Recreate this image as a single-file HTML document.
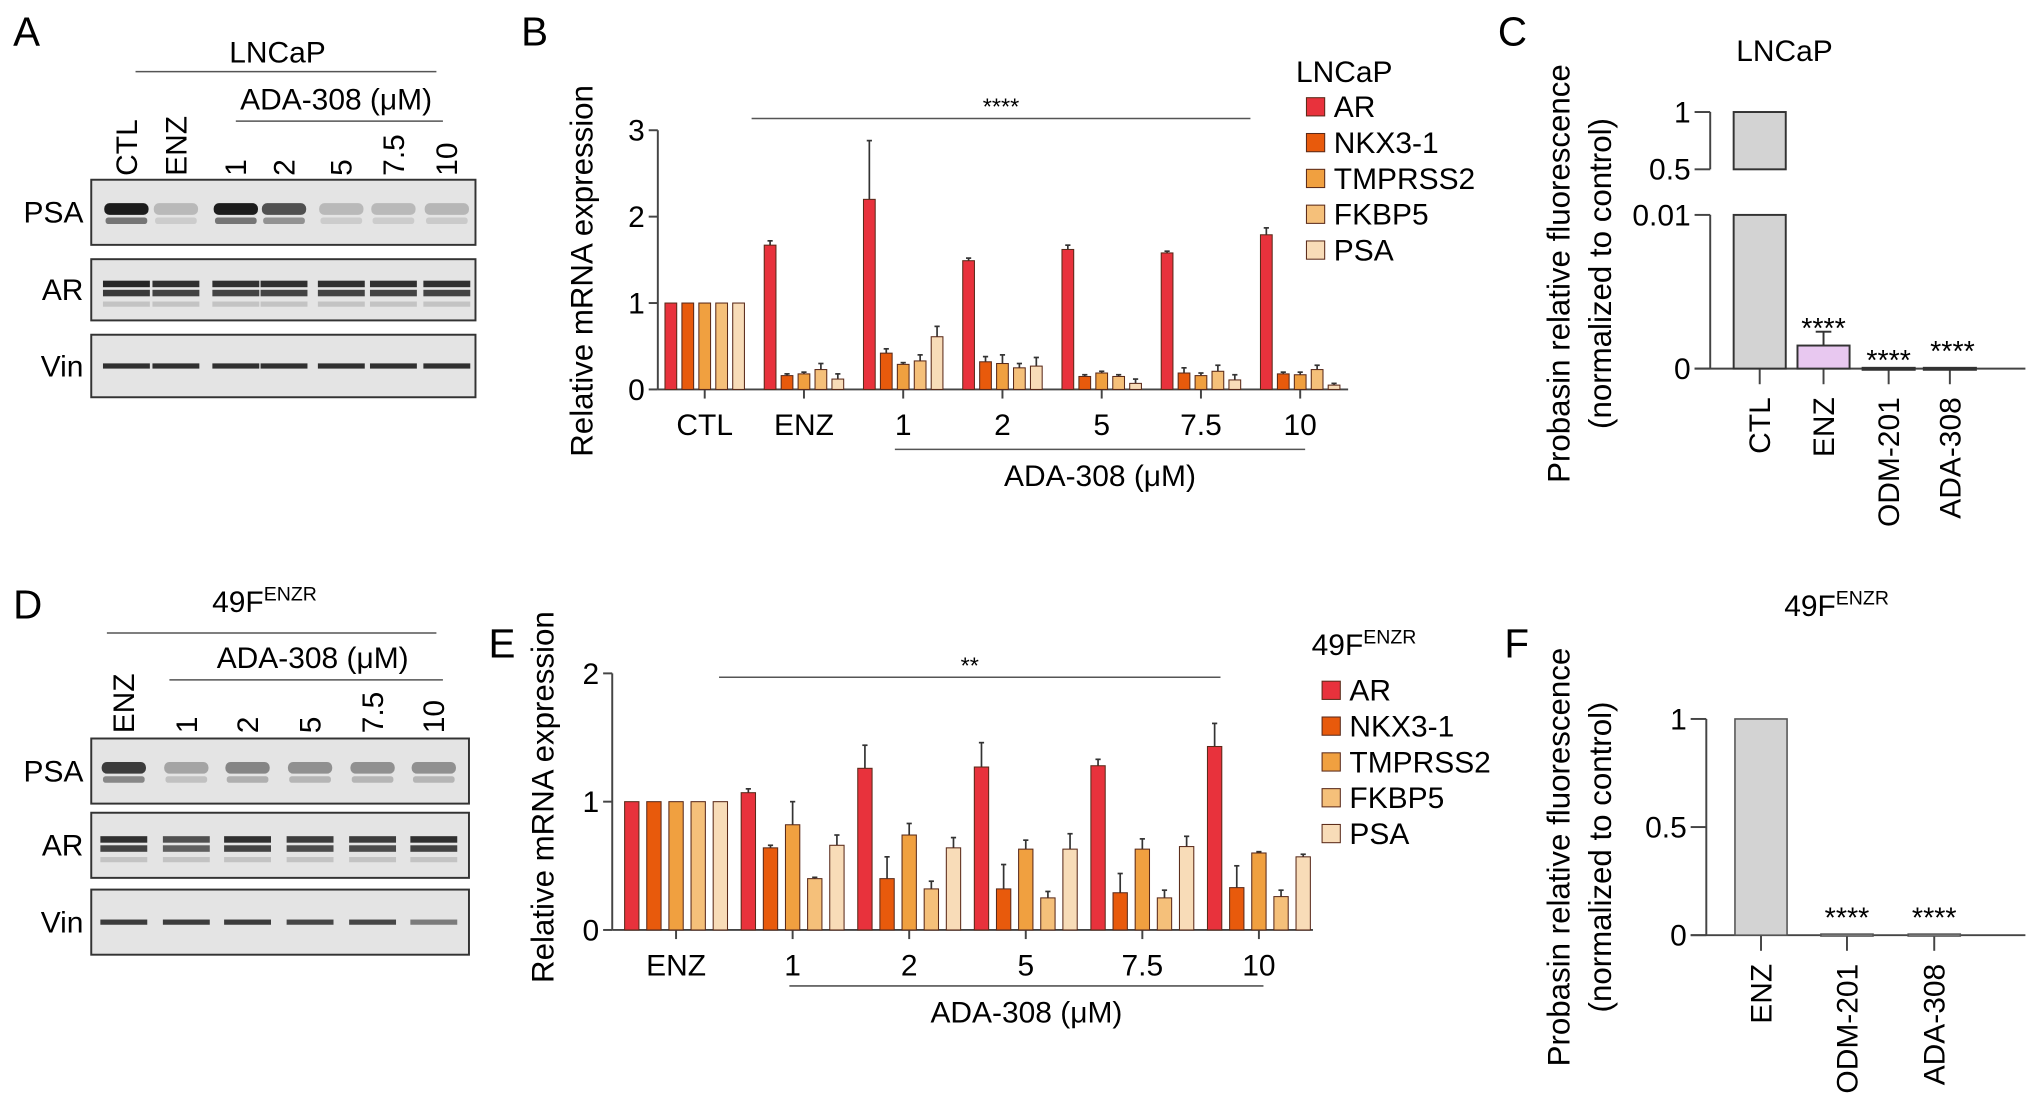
<!DOCTYPE html>
<html><head><meta charset="utf-8"><style>
html,body{margin:0;padding:0;background:#fff;}
svg{display:block;font-family:"Liberation Sans",Arial,sans-serif;}
</style></head><body>
<svg id="fig" width="2032" height="1111" viewBox="0 0 1560 853" xmlns="http://www.w3.org/2000/svg">
<g id="blots"></g>
<g id="chartB"></g>
<g id="chartE"></g>
<g id="chartC"></g>
<g id="chartF"></g>
</svg>
<script>
const seriesNames = ["AR","NKX3-1","TMPRSS2","FKBP5","PSA"];
const seriesColors = ["#e8323c","#e85a0c","#f0a040","#f5c07a","#f8dcb8"];
const bCategories = ["CTL","ENZ","1","2","5","7.5","10"];
const bAR    = [1,1.67,2.2,1.49,1.62,1.58,1.79];
const bNKX   = [1,0.16,0.42,0.32,0.15,0.19,0.18];
const bTMP   = [1,0.18,0.29,0.30,0.19,0.16,0.17];
const bFKBP  = [1,0.23,0.33,0.25,0.15,0.21,0.23];
const bPSA   = [1,0.12,0.61,0.27,0.07,0.11,0.05];
const bARerr = [0,0.05,0.68,0.03,0.05,0.02,0.08];
const bNKXerr= [0,0.02,0.05,0.06,0.02,0.06,0.02];
const bTMPerr= [0,0.02,0.02,0.10,0.02,0.03,0.03];
const bFKBPerr=[0,0.07,0.07,0.05,0.02,0.07,0.05];
const bPSAerr= [0,0.06,0.12,0.10,0.05,0.06,0.02];
const bTicks = [0,1,2,3];
const eCategories = ["ENZ","1","2","5","7.5","10"];
const eAR    = [1,1.07,1.26,1.27,1.28,1.43];
const eNKX   = [1,0.64,0.40,0.32,0.29,0.33];
const eTMP   = [1,0.82,0.74,0.63,0.63,0.60];
const eFKBP  = [1,0.40,0.32,0.25,0.25,0.26];
const ePSA   = [1,0.66,0.64,0.63,0.65,0.57];
const eARerr = [0,0.03,0.18,0.19,0.05,0.18];
const eNKXerr= [0,0.02,0.17,0.19,0.15,0.17];
const eTMPerr= [0,0.18,0.09,0.07,0.08,0.01];
const eFKBPerr=[0,0.01,0.06,0.05,0.06,0.05];
const ePSAerr= [0,0.08,0.08,0.12,0.08,0.02];
const eTicks = [0,1,2];
const cCategories = ["CTL","ENZ","ODM-201","ADA-308"];
const cValues = [1,0.0015,0.00005,0.00005];
const cErr = [0,0.0009,0,0];
const fCategories = ["ENZ","ODM-201","ADA-308"];
const fValues = [1,0.005,0.005];
const fTicks = [0,0.5,1];

const FS=23;
const NS="http://www.w3.org/2000/svg";
function el(parent,tag,attrs,text){const e=document.createElementNS(NS,tag);for(const k in attrs)e.setAttribute(k,attrs[k]);if(text!==undefined)e.textContent=text;parent.appendChild(e);return e;}
const fig=document.getElementById('fig');

[["A",10,35],["B",400,35],["C",1150,35],["D",10,475],["E",375,505],["F",1155,505]].forEach(p=>{
  const t=el(fig,'text',{x:p[1],y:p[2],'font-size':31},p[0]);
  
  
});

const blots=document.getElementById('blots');
function blotSet(x0,x1,rows,lanes,intens){
  rows.forEach((r,ri)=>{
    const b=el(blots,'rect',{x:x0,y:r[1],width:x1-x0,height:r[2]-r[1],fill:'#e4e4e4',stroke:'#333','stroke-width':1.5});
    
    
    const l=el(blots,'text',{x:x0-6,y:(r[1]+r[2])/2+8,'font-size':FS,'text-anchor':'end'},r[0]);
    
    
    const cy=(r[1]+r[2])/2;
    lanes.forEach((lx,li)=>{
      const v=intens[ri][li];
      if(r[0]==='PSA'){
        el(blots,'rect',{x:lx-17,y:cy-7,width:34,height:9,rx:4,fill:'#111','fill-opacity':v});
        el(blots,'rect',{x:lx-16,y:cy+4,width:32,height:5,rx:2,fill:'#222','fill-opacity':v*0.6});
      } else if(r[0]==='AR'){
        el(blots,'rect',{x:lx-18,y:cy-7,width:36,height:5,fill:'#111','fill-opacity':v});
        el(blots,'rect',{x:lx-18,y:cy,width:36,height:5,fill:'#111','fill-opacity':v*0.9});
        el(blots,'rect',{x:lx-18,y:cy+9,width:36,height:4,fill:'#777','fill-opacity':0.3});
      } else {
        el(blots,'rect',{x:lx-18,y:cy-2,width:36,height:4,fill:'#111','fill-opacity':v});
      }
    });
  });
}
const aLanes=[97,135,181,218,262,302,343];
blotSet(70,365,[["PSA",138,188],["AR",199,246],["Vin",257,305]],aLanes,
 [[0.95,0.2,0.95,0.7,0.2,0.2,0.22],[0.9,0.85,0.85,0.85,0.85,0.85,0.85],[0.85,0.85,0.85,0.85,0.85,0.85,0.85]]);
["CTL","ENZ","1","2","5","7.5","10"].forEach((s,i)=>{
  const t=el(blots,'text',{x:0,y:0,'font-size':FS,transform:`translate(${aLanes[i]+8},135) rotate(-90)`},s);
   
});
el(blots,'text',{x:213,y:48,'font-size':FS,'text-anchor':'middle'},"LNCaP");
el(blots,'line',{x1:104,x2:335,y1:55,y2:55,stroke:'#555','stroke-width':1.2});
el(blots,'text',{x:258,y:84,'font-size':FS,'text-anchor':'middle'},"ADA-308 (\u03bcM)");
el(blots,'line',{x1:181,x2:340,y1:93,y2:93,stroke:'#555','stroke-width':1.2});

const dLanes=[95,143,190,238,286,333];
blotSet(70,360,[["PSA",567,617],["AR",624,674],["Vin",683,733]],dLanes,
 [[0.8,0.3,0.45,0.4,0.4,0.4],[0.85,0.7,0.85,0.8,0.8,0.85],[0.8,0.8,0.8,0.75,0.75,0.5]]);
["ENZ","1","2","5","7.5","10"].forEach((s,i)=>{
  const t=el(blots,'text',{x:0,y:0,'font-size':FS,transform:`translate(${dLanes[i]+8},563) rotate(-90)`},s);
   
});
const dt=el(blots,'text',{x:203,y:470,'font-size':FS,'text-anchor':'middle'},"49F");
el(dt,'tspan',{dy:-9,'font-size':15},"ENZR");
el(blots,'line',{x1:82,x2:335,y1:486,y2:486,stroke:'#555','stroke-width':1.2});
el(blots,'text',{x:240,y:513,'font-size':FS,'text-anchor':'middle'},"ADA-308 (\u03bcM)");
el(blots,'line',{x1:130,x2:340,y1:522,y2:522,stroke:'#555','stroke-width':1.2});

function grouped(gId,cfg){
  const g=document.getElementById(gId);
  const yS=v=>cfg.y0-(v/cfg.ymax)*(cfg.y0-cfg.ytop);
  el(g,'line',{x1:cfg.ax,x2:cfg.ax,y1:yS(cfg.ymax),y2:cfg.y0,stroke:'#444','stroke-width':1.5});
  el(g,'line',{x1:cfg.ax,x2:cfg.axEnd,y1:cfg.y0,y2:cfg.y0,stroke:'#444','stroke-width':1.5});
  cfg.ticks.forEach(t=>{
    el(g,'line',{x1:cfg.ax-7,x2:cfg.ax,y1:yS(t),y2:yS(t),stroke:'#444','stroke-width':1.5});
    const tl=el(g,'text',{x:cfg.ax-10,y:yS(t)+8,'font-size':FS,'text-anchor':'end'},t);
     
  });
  cfg.cats.forEach((c,i)=>{
    const cx=cfg.gx0+i*cfg.gstep;
    el(g,'line',{x1:cx,x2:cx,y1:cfg.y0,y2:cfg.y0+7,stroke:'#444','stroke-width':1.5});
    const tl=el(g,'text',{x:cx,y:cfg.y0+35,'font-size':FS,'text-anchor':'middle'},c);
     
    cfg.series.forEach((s,si)=>{
      const bx=cx+(si-2)*cfg.bstep-cfg.bw/2;
      const v=s[i], e=cfg.errs[si][i];
      if(e>0){
        el(g,'line',{x1:bx+cfg.bw/2,x2:bx+cfg.bw/2,y1:yS(v),y2:yS(v+e),stroke:'#333','stroke-width':1.3});
        el(g,'line',{x1:bx+cfg.bw/2-2,x2:bx+cfg.bw/2+2,y1:yS(v+e),y2:yS(v+e),stroke:'#333','stroke-width':1.3});
      }
      const r=el(g,'rect',{x:bx,y:yS(v),width:cfg.bw,height:cfg.y0-yS(v),fill:seriesColors[si],stroke:'#5a2a1a','stroke-width':0.8});
      
      
    });
  });
  const yl=el(g,'text',{x:0,y:0,'font-size':24,'text-anchor':'middle',transform:`translate(${cfg.ylx},${cfg.yly}) rotate(-90)`},"Relative mRNA expression");
   
  el(g,'line',{x1:cfg.sig[0],x2:cfg.sig[1],y1:cfg.sig[2],y2:cfg.sig[2],stroke:'#555','stroke-width':1.2});
  el(g,'text',{x:(cfg.sig[0]+cfg.sig[1])/2,y:cfg.sig[2]-3,'font-size':18,'text-anchor':'middle'},cfg.sigText);
  el(g,'line',{x1:cfg.ada[0],x2:cfg.ada[1],y1:cfg.ada[2],y2:cfg.ada[2],stroke:'#555','stroke-width':1.2});
  const at=el(g,'text',{x:(cfg.ada[0]+cfg.ada[1])/2,y:cfg.ada[2]+28,'font-size':FS,'text-anchor':'middle'},"ADA-308 (\u03bcM)");
   
  const lt=el(g,'text',{x:cfg.lx-8,y:cfg.lty,'font-size':FS},cfg.legTitle);
  if(cfg.legSup) el(lt,'tspan',{dy:-9,'font-size':15},cfg.legSup);
  seriesNames.forEach((n,si)=>{
    const yy=cfg.ly+si*cfg.lstep;
    const sw=el(g,'rect',{x:cfg.lx,y:yy-7,width:14,height:14,fill:seriesColors[si],stroke:'#5a2a1a','stroke-width':0.8});
     
    const tx=el(g,'text',{x:cfg.lx+21,y:yy+8,'font-size':FS},n);
     
  });
}
grouped('chartB',{ax:505,axEnd:1035,y0:299,ytop:100,ymax:3,ticks:bTicks,cats:bCategories,gx0:541,gstep:76.2,bstep:13,bw:9,
  series:[bAR,bNKX,bTMP,bFKBP,bPSA],errs:[bARerr,bNKXerr,bTMPerr,bFKBPerr,bPSAerr],
  ylx:455,yly:208,sig:[577,960,91],sigText:"****",ada:[687,1002,345],lx:1003,ly:82,lty:63,lstep:27.5,legTitle:"LNCaP"});
grouped('chartE',{ax:470,axEnd:1008,y0:714,ytop:517,ymax:2,ticks:eTicks,cats:eCategories,gx0:519,gstep:89.5,bstep:17,bw:11,
  series:[eAR,eNKX,eTMP,eFKBP,ePSA],errs:[eARerr,eNKXerr,eTMPerr,eFKBPerr,ePSAerr],
  ylx:425,yly:612,sig:[552,937,520],sigText:"**",ada:[606,970,757],lx:1015,ly:530,lty:503,lstep:27.5,legTitle:"49F",legSup:"ENZR"});

(function(){
  const g=document.getElementById('chartC');
  const ax=1313, y0=283, yLowTop=165, lowMax=0.01, yHi1=86, yHi05=130;
  const yLow=v=>y0-(v/lowMax)*(y0-yLowTop);
  const yHi=v=>yHi05-(v-0.5)/0.5*(yHi05-yHi1);
  el(g,'line',{x1:ax,x2:ax,y1:yLowTop,y2:y0,stroke:'#444','stroke-width':1.5});
  el(g,'line',{x1:ax,x2:ax,y1:yHi1,y2:yHi05,stroke:'#444','stroke-width':1.5});
  el(g,'line',{x1:ax-12,x2:1555,y1:y0,y2:y0,stroke:'#444','stroke-width':1.5});
  [[0,yLow(0)],[0.01,yLow(0.01)],[0.5,yHi(0.5)],[1,yHi(1)]].forEach(t=>{
    el(g,'line',{x1:ax-12,x2:ax,y1:t[1],y2:t[1],stroke:'#444','stroke-width':1.5});
    const tl=el(g,'text',{x:ax-15,y:t[1]+8,'font-size':FS,'text-anchor':'end'},t[0]);
     
  });
  const xs=[1351,1400,1450,1497];
  cCategories.forEach((c,i)=>{
    const cx=xs[i], v=cValues[i], w=40;
    el(g,'line',{x1:cx,x2:cx,y1:y0,y2:y0+12,stroke:'#444','stroke-width':1.5});
    if(cErr[i]>0){
      el(g,'line',{x1:cx,x2:cx,y1:yLow(v),y2:yLow(v+cErr[i]),stroke:'#333','stroke-width':1.5});
      el(g,'line',{x1:cx-6,x2:cx+6,y1:yLow(v+cErr[i]),y2:yLow(v+cErr[i]),stroke:'#333','stroke-width':1.5});
    }
    const fill=i===0?'#d3d3d3':(i===1?'#e8c8f0':'#ccc');
    if(v>lowMax){
      const r=el(g,'rect',{x:cx-w/2,y:yLowTop,width:w,height:y0-yLowTop,fill:fill,stroke:'#333','stroke-width':1.5});
       
      el(g,'rect',{x:cx-w/2,y:yHi(Math.min(v,1)),width:w,height:yHi05-yHi(Math.min(v,1)),fill:fill,stroke:'#333','stroke-width':1.5});
    } else {
      const r=el(g,'rect',{x:cx-w/2,y:yLow(v),width:w,height:Math.max(y0-yLow(v),1.5),fill:fill,stroke:'#333','stroke-width':1.5});
       
    }
    if(i>0){
      const sy=i===1?yLow(v+cErr[i])-6:(i===2?273:266);
      el(g,'text',{x:cx+(i===3?2:0),y:sy+11,'font-size':22,'text-anchor':'middle'},"****");
    }
    const tl=el(g,'text',{x:0,y:0,'font-size':FS,'text-anchor':'end',transform:`translate(${cx+8},${y0+22}) rotate(-90)`},c);
     
  });
  el(g,'text',{x:1370,y:47,'font-size':FS,'text-anchor':'middle'},"LNCaP");
  const t1=el(g,'text',{x:0,y:0,'font-size':24,'text-anchor':'middle',transform:'translate(1205,210) rotate(-90)'},"Probasin relative fluorescence");
   
  el(g,'text',{x:0,y:0,'font-size':24,'text-anchor':'middle',transform:'translate(1237,210) rotate(-90)'},"(normalized to control)");
})();

(function(){
  const g=document.getElementById('chartF');
  const ax=1310, y0=718, y1=552;
  const yS=v=>y0-v*(y0-y1);
  el(g,'line',{x1:ax,x2:ax,y1:y1,y2:y0,stroke:'#444','stroke-width':1.5});
  el(g,'line',{x1:ax-12,x2:1555,y1:y0,y2:y0,stroke:'#444','stroke-width':1.5});
  fTicks.forEach(t=>{
    el(g,'line',{x1:ax-12,x2:ax,y1:yS(t),y2:yS(t),stroke:'#444','stroke-width':1.5});
    const tl=el(g,'text',{x:ax-15,y:yS(t)+8,'font-size':FS,'text-anchor':'end'},t);
     
  });
  const xs=[1352,1418,1485];
  fCategories.forEach((c,i)=>{
    const cx=xs[i], v=fValues[i];
    el(g,'line',{x1:cx,x2:cx,y1:y0,y2:y0+12,stroke:'#444','stroke-width':1.5});
    const r=el(g,'rect',{x:cx-20,y:yS(v),width:40,height:Math.max(y0-yS(v),1.5),fill:'#d3d3d3',stroke:'#555','stroke-width':1.2});
     
    if(i>0) el(g,'text',{x:cx,y:y0-6,'font-size':22,'text-anchor':'middle'},"****");
    const tl=el(g,'text',{x:0,y:0,'font-size':FS,'text-anchor':'end',transform:`translate(${cx+8},${y0+22}) rotate(-90)`},c);
     
  });
  const tt=el(g,'text',{x:1410,y:473,'font-size':FS,'text-anchor':'middle'},"49F");
  el(tt,'tspan',{dy:-9,'font-size':15},"ENZR");
  const t1=el(g,'text',{x:0,y:0,'font-size':24,'text-anchor':'middle',transform:'translate(1205,658) rotate(-90)'},"Probasin relative fluorescence");
   
  el(g,'text',{x:0,y:0,'font-size':24,'text-anchor':'middle',transform:'translate(1237,658) rotate(-90)'},"(normalized to control)");
})();
</script>
</body></html>
